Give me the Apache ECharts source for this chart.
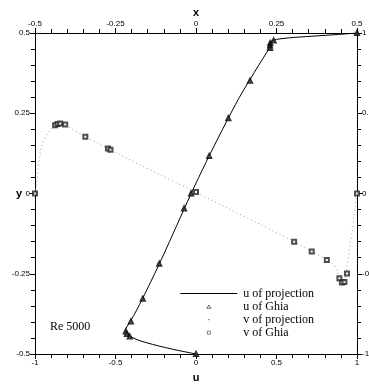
<!DOCTYPE html>
<html>
<head>
<meta charset="utf-8">
<script src="https://cdn.jsdelivr.net/npm/echarts@6/dist/echarts.min.js"></script>
<style>
html, body { margin: 0; padding: 0; background: #fff; }
#chart { width: 369px; height: 385px; }
</style>
</head>
<body>
<div id="chart"></div>
<script>
// Lid-driven cavity, Re 5000: centerline velocity profiles.
// u along the vertical centerline (u vs y), projection method.
const projY = [-0.5, -0.495, -0.49, -0.48, -0.47, -0.46, -0.45, -0.44, -0.43, -0.42, -0.40, -0.36, -0.30, -0.20, -0.10, 0, 0.10, 0.20, 0.30, 0.40, 0.44, 0.46, 0.47, 0.475, 0.48, 0.485, 0.49, 0.495, 0.5];
const projU = [0, -0.05, -0.10, -0.19, -0.27, -0.34, -0.39, -0.425, -0.44, -0.435, -0.41, -0.365, -0.305, -0.21, -0.12, -0.03, 0.065, 0.165, 0.27, 0.39, 0.44, 0.46, 0.465, 0.47, 0.50, 0.58, 0.72, 0.87, 1.0];

// u along the vertical centerline, Ghia et al.
const ghiaUy = [0.5, 0.4766, 0.4688, 0.4609, 0.4531, 0.3516, 0.2344, 0.1172, 0.0, -0.0469, -0.2187, -0.3281, -0.3984, -0.4297, -0.4375, -0.4453, -0.5];
const ghiaU  = [1.0, 0.48223, 0.46120, 0.45992, 0.46036, 0.33556, 0.20087, 0.08183, -0.03039, -0.07404, -0.22855, -0.33050, -0.40435, -0.43643, -0.42901, -0.41165, 0];

// v along the horizontal centerline (v vs x), projection method.
const projX = [-0.5, -0.495, -0.49, -0.485, -0.48, -0.47, -0.46, -0.45, -0.44, -0.43, -0.42, -0.41, -0.40, -0.35, -0.30, -0.20, -0.10, 0, 0.10, 0.20, 0.30, 0.36, 0.40, 0.42, 0.43, 0.44, 0.445, 0.45, 0.455, 0.46, 0.465, 0.47, 0.475, 0.48, 0.485, 0.49, 0.495, 0.5];
const projV = [0, 0.07, 0.15, 0.23, 0.29, 0.34, 0.375, 0.40, 0.42, 0.432, 0.435, 0.43, 0.42, 0.36, 0.308, 0.205, 0.105, 0.008, -0.093, -0.193, -0.295, -0.36, -0.405, -0.43, -0.45, -0.49, -0.525, -0.545, -0.555, -0.55, -0.52, -0.45, -0.37, -0.30, -0.24, -0.15, -0.07, 0];

// v along the horizontal centerline, Ghia et al.
const ghiaVx = [-0.5, -0.4375, -0.4297, -0.4219, -0.4062, -0.3437, -0.2734, -0.2656, 0.0, 0.3047, 0.3594, 0.4063, 0.4453, 0.4531, 0.4609, 0.4688, 0.5];
const ghiaV  = [0, 0.42447, 0.43329, 0.43648, 0.42951, 0.35368, 0.28066, 0.27280, 0.00945, -0.30018, -0.36214, -0.41442, -0.52876, -0.55408, -0.55069, -0.49774, 0];

const pair = (xs, ys) => xs.map((v, i) => [v, ys[i]]);

const labelFont = { fontFamily: 'Liberation Sans', fontSize: 8, color: '#000' };
const nameFont = { fontFamily: 'Liberation Sans', fontSize: 11, fontWeight: 'bold', color: '#000' };

function axis(extra) {
  return Object.assign({
    type: 'value',
    nameMoveOverlap: false,
    splitLine: { show: false },
    axisLine: { show: true, onZero: false, lineStyle: { color: '#000', width: 1 } },
    axisTick: { show: true, inside: false, length: 5, lineStyle: { color: '#000' } },
    minorTick: { show: true, splitNumber: 5, length: 4, lineStyle: { color: '#000' } },
    axisLabel: Object.assign({ margin: 5 }, labelFont),
    nameTextStyle: nameFont
  }, extra);
}

// Legend glyphs drawn inside a 57x5 box so they keep their proportions.
const iconLine = 'path://M0,0M57,5M0,2.1h57v0.8h-57z';
const iconTri = 'path://M0,0M57,5M28.5,1L30.5,4.3L26.5,4.3Z';
const iconDot = 'path://M0,0M57,5M28,2h1.2v1.2h-1.2z';
const iconSq = 'path://M0,0M57,5M27,1.2h3v3h-3z';

const chart = echarts.init(document.getElementById('chart'), null, { renderer: 'canvas' });
chart.setOption({
  backgroundColor: '#fff',
  animation: false,
  grid: { left: 35, right: 12, top: 33, bottom: 31, containLabel: false, outerBoundsMode: 'none' },
  xAxis: [
    axis({ position: 'bottom', min: -1, max: 1, interval: 0.5, name: 'u', nameLocation: 'middle', nameGap: 18 }),
    axis({ position: 'top', min: -0.5, max: 0.5, interval: 0.25, name: 'x', nameLocation: 'middle', nameGap: 15 })
  ],
  yAxis: [
    axis({ position: 'left', min: -0.5, max: 0.5, interval: 0.25, name: 'y', nameLocation: 'middle', nameRotate: 0, nameGap: 13 }),
    axis({ position: 'right', min: -1, max: 1, interval: 0.5 })
  ],
  legend: {
    orient: 'vertical',
    left: 175,
    top: 282,
    itemWidth: 57,
    itemHeight: 5,
    itemGap: 0,
    symbolKeepAspect: false,
    textStyle: { fontFamily: 'Liberation Serif', fontSize: 12, color: '#000', lineHeight: 13, padding: [0, 0, 0, 1] },
    data: [
      { name: 'u of projection', icon: iconLine, itemStyle: { color: '#000', borderWidth: 0 } },
      { name: 'u of Ghia', icon: iconTri, itemStyle: { color: '#fff', borderColor: '#000', borderWidth: 0.7 } },
      { name: 'v of projection', icon: iconDot, itemStyle: { color: '#666', borderWidth: 0 } },
      { name: 'v of Ghia', icon: iconSq, itemStyle: { color: '#fff', borderColor: '#222', borderWidth: 0.7 } }
    ]
  },
  graphic: [
    { type: 'text', left: 50, top: 321, style: { text: 'Re 5000', font: '12px "Liberation Serif"', fill: '#000' } }
  ],
  series: [
    {
      name: 'u of projection', type: 'line', xAxisIndex: 0, yAxisIndex: 0,
      data: pair(projU, projY), symbol: 'none', smooth: 0.3,
      lineStyle: { color: '#000', width: 1 }, itemStyle: { color: '#000' }, z: 3
    },
    {
      name: 'u of Ghia', type: 'scatter', xAxisIndex: 0, yAxisIndex: 0,
      data: pair(ghiaU, ghiaUy), symbol: 'emptyTriangle', symbolSize: 4,
      itemStyle: { color: '#000', borderWidth: 0.7 }, z: 4
    },
    {
      name: 'v of projection', type: 'line', xAxisIndex: 1, yAxisIndex: 1,
      data: pair(projX, projV), symbol: 'none', smooth: 0.3,
      lineStyle: { color: '#999', width: 1, type: [1, 3] }, itemStyle: { color: '#999' }, z: 2
    },
    {
      name: 'v of Ghia', type: 'scatter', xAxisIndex: 1, yAxisIndex: 1,
      data: pair(ghiaVx, ghiaV), symbol: 'emptyRect', symbolSize: 4,
      itemStyle: { color: '#222', borderWidth: 0.7 }, z: 4
    }
  ]
});
</script>
</body>
</html>
